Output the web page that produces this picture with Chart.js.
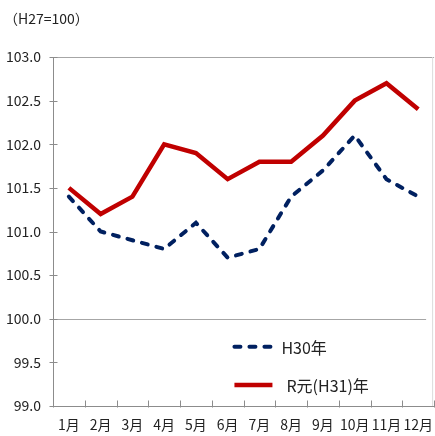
<!DOCTYPE html>
<html>
<head>
<meta charset="utf-8">
<script src="https://cdn.jsdelivr.net/npm/chart.js@4/dist/chart.umd.min.js"></script>
<style>
  html, body { margin: 0; padding: 0; background: #fff; }
  #wrap { position: relative; width: 435px; height: 436px; }
  #unit { position: absolute; left: 4px; top: 8px; font: 14px "Noto Sans CJK JP", sans-serif; color: #222; }
  canvas { position: absolute; left: 0; top: 0; }
</style>
</head>
<body>
<div id="wrap">
  <canvas id="chart" width="435" height="436"></canvas>
  <div id="unit">（H27=100）</div>
</div>
<script>
const months = ["1月", "2月", "3月", "4月", "5月", "6月", "7月", "8月", "9月", "10月", "11月", "12月"];
const seriesNames = ["H30年", "R元(H31)年"];
const h30 = [101.4, 101.0, 100.9, 100.8, 101.1, 100.7, 100.8, 101.4, 101.7, 102.1, 101.6, 101.4];
const r1 = [101.5, 101.2, 101.4, 102.0, 101.9, 101.6, 101.8, 101.8, 102.1, 102.5, 102.7, 102.4];
const yMin = 99.0, yMax = 103.0, yStep = 0.5;

const FONT = '"Noto Sans CJK JP", sans-serif';
const AXIS = "#8c8c8c";

// axis lines, gridlines at 100 / 103 and the crossing tick marks
const axisPlugin = {
  id: "axisDeco",
  beforeDatasetsDraw(c) {
    const { ctx, chartArea: a, scales: { x, y } } = c;
    ctx.save();
    ctx.lineWidth = 1;
    ctx.strokeStyle = "#a6a6a6";
    [103, 100].forEach((v) => {
      const py = Math.round(y.getPixelForValue(v)) + 0.5;
      ctx.beginPath();
      ctx.moveTo(a.left, py);
      ctx.lineTo(v === 100 ? a.right - 8 : a.right, py);
      ctx.stroke();
    });
    ctx.strokeStyle = AXIS;
    const lx = Math.round(a.left) + 0.5;
    const by = Math.round(a.bottom) + 0.5;
    ctx.beginPath();
    ctx.moveTo(lx, a.top);
    ctx.lineTo(lx, a.bottom);
    ctx.moveTo(a.left, by);
    ctx.lineTo(a.right, by);
    for (let v = yMin; v <= yMax + 1e-9; v += yStep) {
      const py = Math.round(y.getPixelForValue(v)) + 0.5;
      ctx.moveTo(lx - 4, py);
      ctx.lineTo(lx + 4, py);
    }
    for (let i = 0; i <= months.length; i++) {
      const px = Math.round(x.getPixelForValue(i - 0.5)) + 0.5;
      ctx.moveTo(px, by - 6);
      ctx.lineTo(px, by + 1);
    }
    ctx.stroke();
    ctx.strokeStyle = "#dcdcdc";
    ctx.beginPath();
    ctx.moveTo(a.right - 1.5, a.top);
    ctx.lineTo(a.right - 1.5, a.bottom);
    ctx.stroke();
    ctx.restore();
  },
  afterDatasetsDraw(c) {
    // legend inside the plot
    const { ctx, scales: { x, y } } = c;
    ctx.save();
    ctx.font = "16px " + FONT;
    ctx.textBaseline = "middle";
    ctx.fillStyle = "#222";
    const x0 = x.getPixelForValue(5.15);
    const rows = [
      { ds: c.data.datasets[0], py: y.getPixelForValue(99.68), len: 44, gap: 5 },
      { ds: c.data.datasets[1], py: y.getPixelForValue(99.24), len: 40, gap: 14 },
    ];
    rows.forEach((r) => {
      ctx.strokeStyle = r.ds.borderColor;
      ctx.lineWidth = r.ds.borderWidth;
      ctx.lineCap = r.ds.borderCapStyle || "butt";
      ctx.setLineDash(r.ds.borderDash || []);
      ctx.beginPath();
      ctx.moveTo(x0 + 2, r.py);
      ctx.lineTo(x0 + r.len, r.py);
      ctx.stroke();
      ctx.setLineDash([]);
      ctx.fillText(r.ds.label, x0 + r.len + r.gap, r.py + 1);
    });
    ctx.restore();
  },
};

new Chart(document.getElementById("chart"), {
  type: "line",
  data: {
    labels: months,
    datasets: [
      {
        label: seriesNames[0],
        data: h30,
        borderColor: "#002060",
        borderWidth: 4,
        borderDash: [6, 9],
        borderCapStyle: "round",
        pointRadius: 0,
        tension: 0,
      },
      {
        label: seriesNames[1],
        data: r1,
        borderColor: "#c00000",
        borderWidth: 4.5,
        borderJoinStyle: "miter",
        pointRadius: 0,
        tension: 0,
      },
    ],
  },
  options: {
    responsive: false,
    animation: false,
    events: [],
    layout: { padding: { top: 57, right: 0, left: 0, bottom: 0 } },
    plugins: { legend: { display: false }, tooltip: { enabled: false } },
    scales: {
      x: {
        offset: true,
        grid: { display: false },
        border: { display: false },
        ticks: { color: "#222", font: { family: FONT, size: 14 }, padding: 2, maxRotation: 0, autoSkip: false },
        afterFit: (s) => { s.height = 30; },
      },
      y: {
        min: yMin,
        max: yMax,
        grid: { display: false },
        border: { display: false },
        ticks: {
          stepSize: yStep,
          color: "#222",
          font: { family: FONT, size: 14 },
          padding: 4,
          callback: (v) => Number(v).toFixed(1),
        },
        afterFit: (s) => { s.width = 53; },
      },
    },
  },
  plugins: [axisPlugin],
});
</script>
</body>
</html>
